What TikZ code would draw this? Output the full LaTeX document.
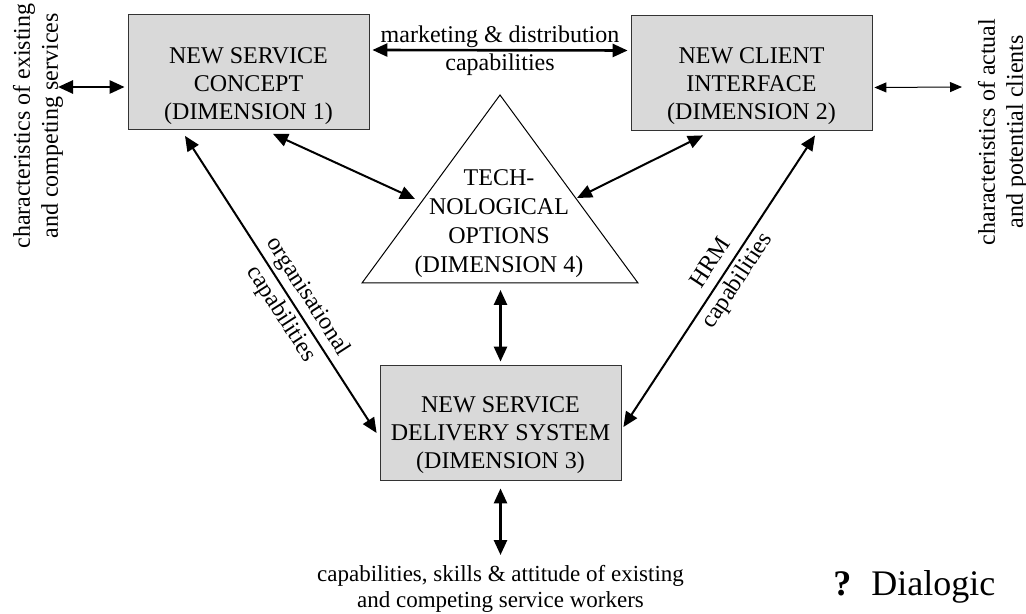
\documentclass[tikz,border=0pt]{standalone}
\usepackage{fontspec}
\setmainfont{Liberation Serif}
\usetikzlibrary{arrows.meta}

\definecolor{kasten}{gray}{0.85}

\tikzset{
  dim/.style={draw=black!80, fill=kasten, minimum width=120.5pt, minimum height=57.5pt},
  txt/.style={align=center, inner sep=0pt},
  schraeg/.style={txt, sloped, font=\fontsize{12}{16}\selectfont},
  dick/.style={{Triangle[length=7.5pt,width=6.5pt]}-{Triangle[length=7.5pt,width=6.5pt]}, line width=1.3pt},
  mittel/.style={{Triangle[length=7.5pt,width=6.5pt]}-{Triangle[length=7.5pt,width=6.5pt]}, line width=1pt},
  duenn/.style={{Triangle[length=6pt,width=5pt]}-{Triangle[length=6pt,width=5pt]}, line width=0.5pt},
}

\begin{document}
\begin{tikzpicture}[x=0.5pt, y=-0.5pt, font=\fontsize{12}{14}\selectfont]
\useasboundingbox (0,0) rectangle (1026,614);

%Kästen der Dimensionen
\node[dim] (konzept) at (248.5,72) {};
\node[dim] (kunde) at (751.5,72.5) {};
\node[dim] (system) at (500.5,422.5) {};
\node[txt] (konzepttext) at ([yshift=-7pt]konzept.center) {NEW SERVICE\\CONCEPT\\(DIMENSION 1)};
\node[txt] (kundetext) at ([yshift=-7pt]kunde.center) {NEW CLIENT\\INTERFACE\\(DIMENSION 2)};
\node[txt] (systemtext) at ([yshift=-6.5pt]system.center) {NEW SERVICE\\DELIVERY SYSTEM\\(DIMENSION 3)};

%Dreieck
\coordinate (spitze) at (500,95);
\coordinate (links) at (362,283);
\coordinate (rechts) at (638,283);
\draw[line width=0.5pt] (spitze) -- (rechts) -- (links) -- cycle;
\node[txt, font=\fontsize{12}{14.5}\selectfont] (technik) at (499,224) {TECH-\\NOLOGICAL\\OPTIONS\\(DIMENSION 4)};

%Beschriftungen aussen
\node[txt, rotate=90] (dienste) at (38,126) {characteristics of existing\\and competing services};
\node[txt, rotate=90] (kunden) at (1003,132) {characteristics of actual\\and potential clients};
\node[txt, font=\fontsize{11.5}{13}\selectfont] (arbeiter) at (500.5,589) {capabilities, skills \& attitude of existing\\and competing service workers};
\node[txt, anchor=west, font=\fontsize{18}{20}\selectfont] (dialog) at (833,587) {\textbf{?}\hspace{10pt}Dialogic};

%Pfeile aussen
\coordinate (d) at (58,87);
\coordinate (k) at (962,87);
\draw[dick] (d) -- ([xshift=-1.5pt,yshift=-7.5pt]konzept.west);
\draw[duenn] ([xshift=1pt,yshift=-7.5pt]kunde.east) -- (k);
\draw[dick] ([xshift=1.5pt,yshift=11pt]konzept.east) -- ([xshift=-1.5pt,yshift=11pt]kunde.west)
  node[midway, txt] (markt) {marketing \& distribution\\capabilities};
\draw[dick] ([yshift=-4pt]system.south) -- ([yshift=5pt]arbeiter.north);

%Pfeile zum Dreieck
\coordinate (tl) at (415,199);
\coordinate (tr) at (577,198);
\coordinate (tu) at (500.5,290);
\draw[mittel] ([xshift=12.25pt,yshift=-2pt]konzept.south) -- (tl);
\draw[mittel] ([xshift=-24.25pt,yshift=-2.5pt]kunde.south) -- (tr);
\draw[dick] (tu) -- ([yshift=1.5pt]system.north);

%Diagonalen
\path[mittel]
([xshift=-31.75pt,yshift=-3pt]konzept.south) edge node[schraeg, pos=0.57] (orga) {organisational\\capabilities} ([xshift=-1.5pt,yshift=-5.25pt]system.west);
\path[mittel]
([xshift=31.75pt,yshift=-2.5pt]kunde.south) edge node[schraeg, pos=0.47] (hrm) {HRM\\capabilities} ([xshift=1pt,yshift=-2.25pt]system.east);
\end{tikzpicture}
\end{document}
